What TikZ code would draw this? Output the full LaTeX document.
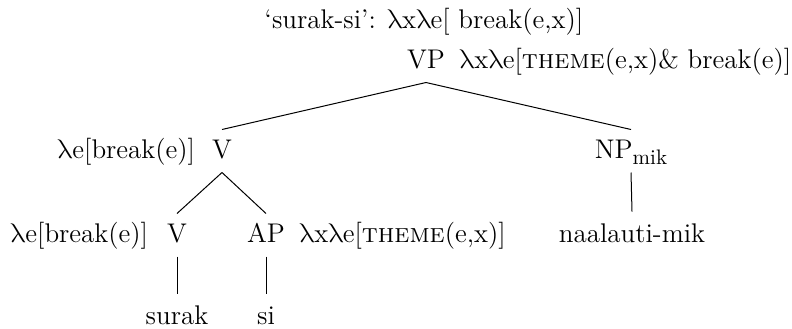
\documentclass[tikz,border=0pt]{standalone}
\usepackage{fontspec}
\newfontfamily\grkfont{latinmodern-math.otf}
\usetikzlibrary{positioning}

\newcommand{\lam}{{\grkfont λ}}
\newcommand{\lowsub}[1]{\raisebox{-0.55ex}{\fontsize{10.5}{13}\selectfont #1}}

\tikzset{
  cat/.style={inner sep=0pt, text height=14pt, text depth=7pt, anchor=base},
  leaf/.style={inner sep=0pt, text height=15pt, text depth=0pt, anchor=base},
  sem/.style={inner sep=0pt},
}

\begin{document}
\begin{tikzpicture}[x=0.5pt, y=-0.5pt, font=\fontsize{13.5}{16}\selectfont, line width=0.5pt]
  \useasboundingbox (0,0) rectangle (792,328);
  % lexical entry
  \node[sem, anchor=base] (lex) at (424,28) {`surak-si': \lam x\lam e[ break(e,x)]};
  % tree nodes
  \node[cat] (vp) at (426,68) {VP};
  \node[sem, anchor=base west] (vpsem) at ([xshift=7pt]vp.base east) {\lam x\lam e[\textsc{theme}(e,x)\& break(e)]};
  \node[cat] (v) at (222,158) {V};
  \node[sem, anchor=base east] (vsem) at ([xshift=-8pt]v.base west) {\lam e[break(e)]};
  \node[cat] (np) at (631,158) {NP\lowsub{mik}};
  \node[cat] (vlow) at (177,242) {V};
  \node[sem, anchor=base east] (vlowsem) at ([xshift=-9pt]vlow.base west) {\lam e[break(e)]};
  \node[cat] (ap) at (266,242) {AP};
  \node[sem, anchor=base west] (apsem) at ([xshift=7pt]ap.base east) {\lam x\lam e[\textsc{theme}(e,x)]};
  \node[leaf] (naal) at (632,242) {naalauti-mik};
  \node[leaf] (surak) at (177,324) {surak};
  \node[leaf] (si) at (266,324) {si};
  % branches
  \draw (vp.south) -- (v.north);
  \draw (vp.south) -- (np.north);
  \draw (v.south) -- (vlow.north);
  \draw (v.south) -- (ap.north);
  \draw (vlow.south) -- (surak.north);
  \draw (ap.south) -- (si.north);
  \draw (np.south) -- (naal.north);
\end{tikzpicture}
\end{document}
